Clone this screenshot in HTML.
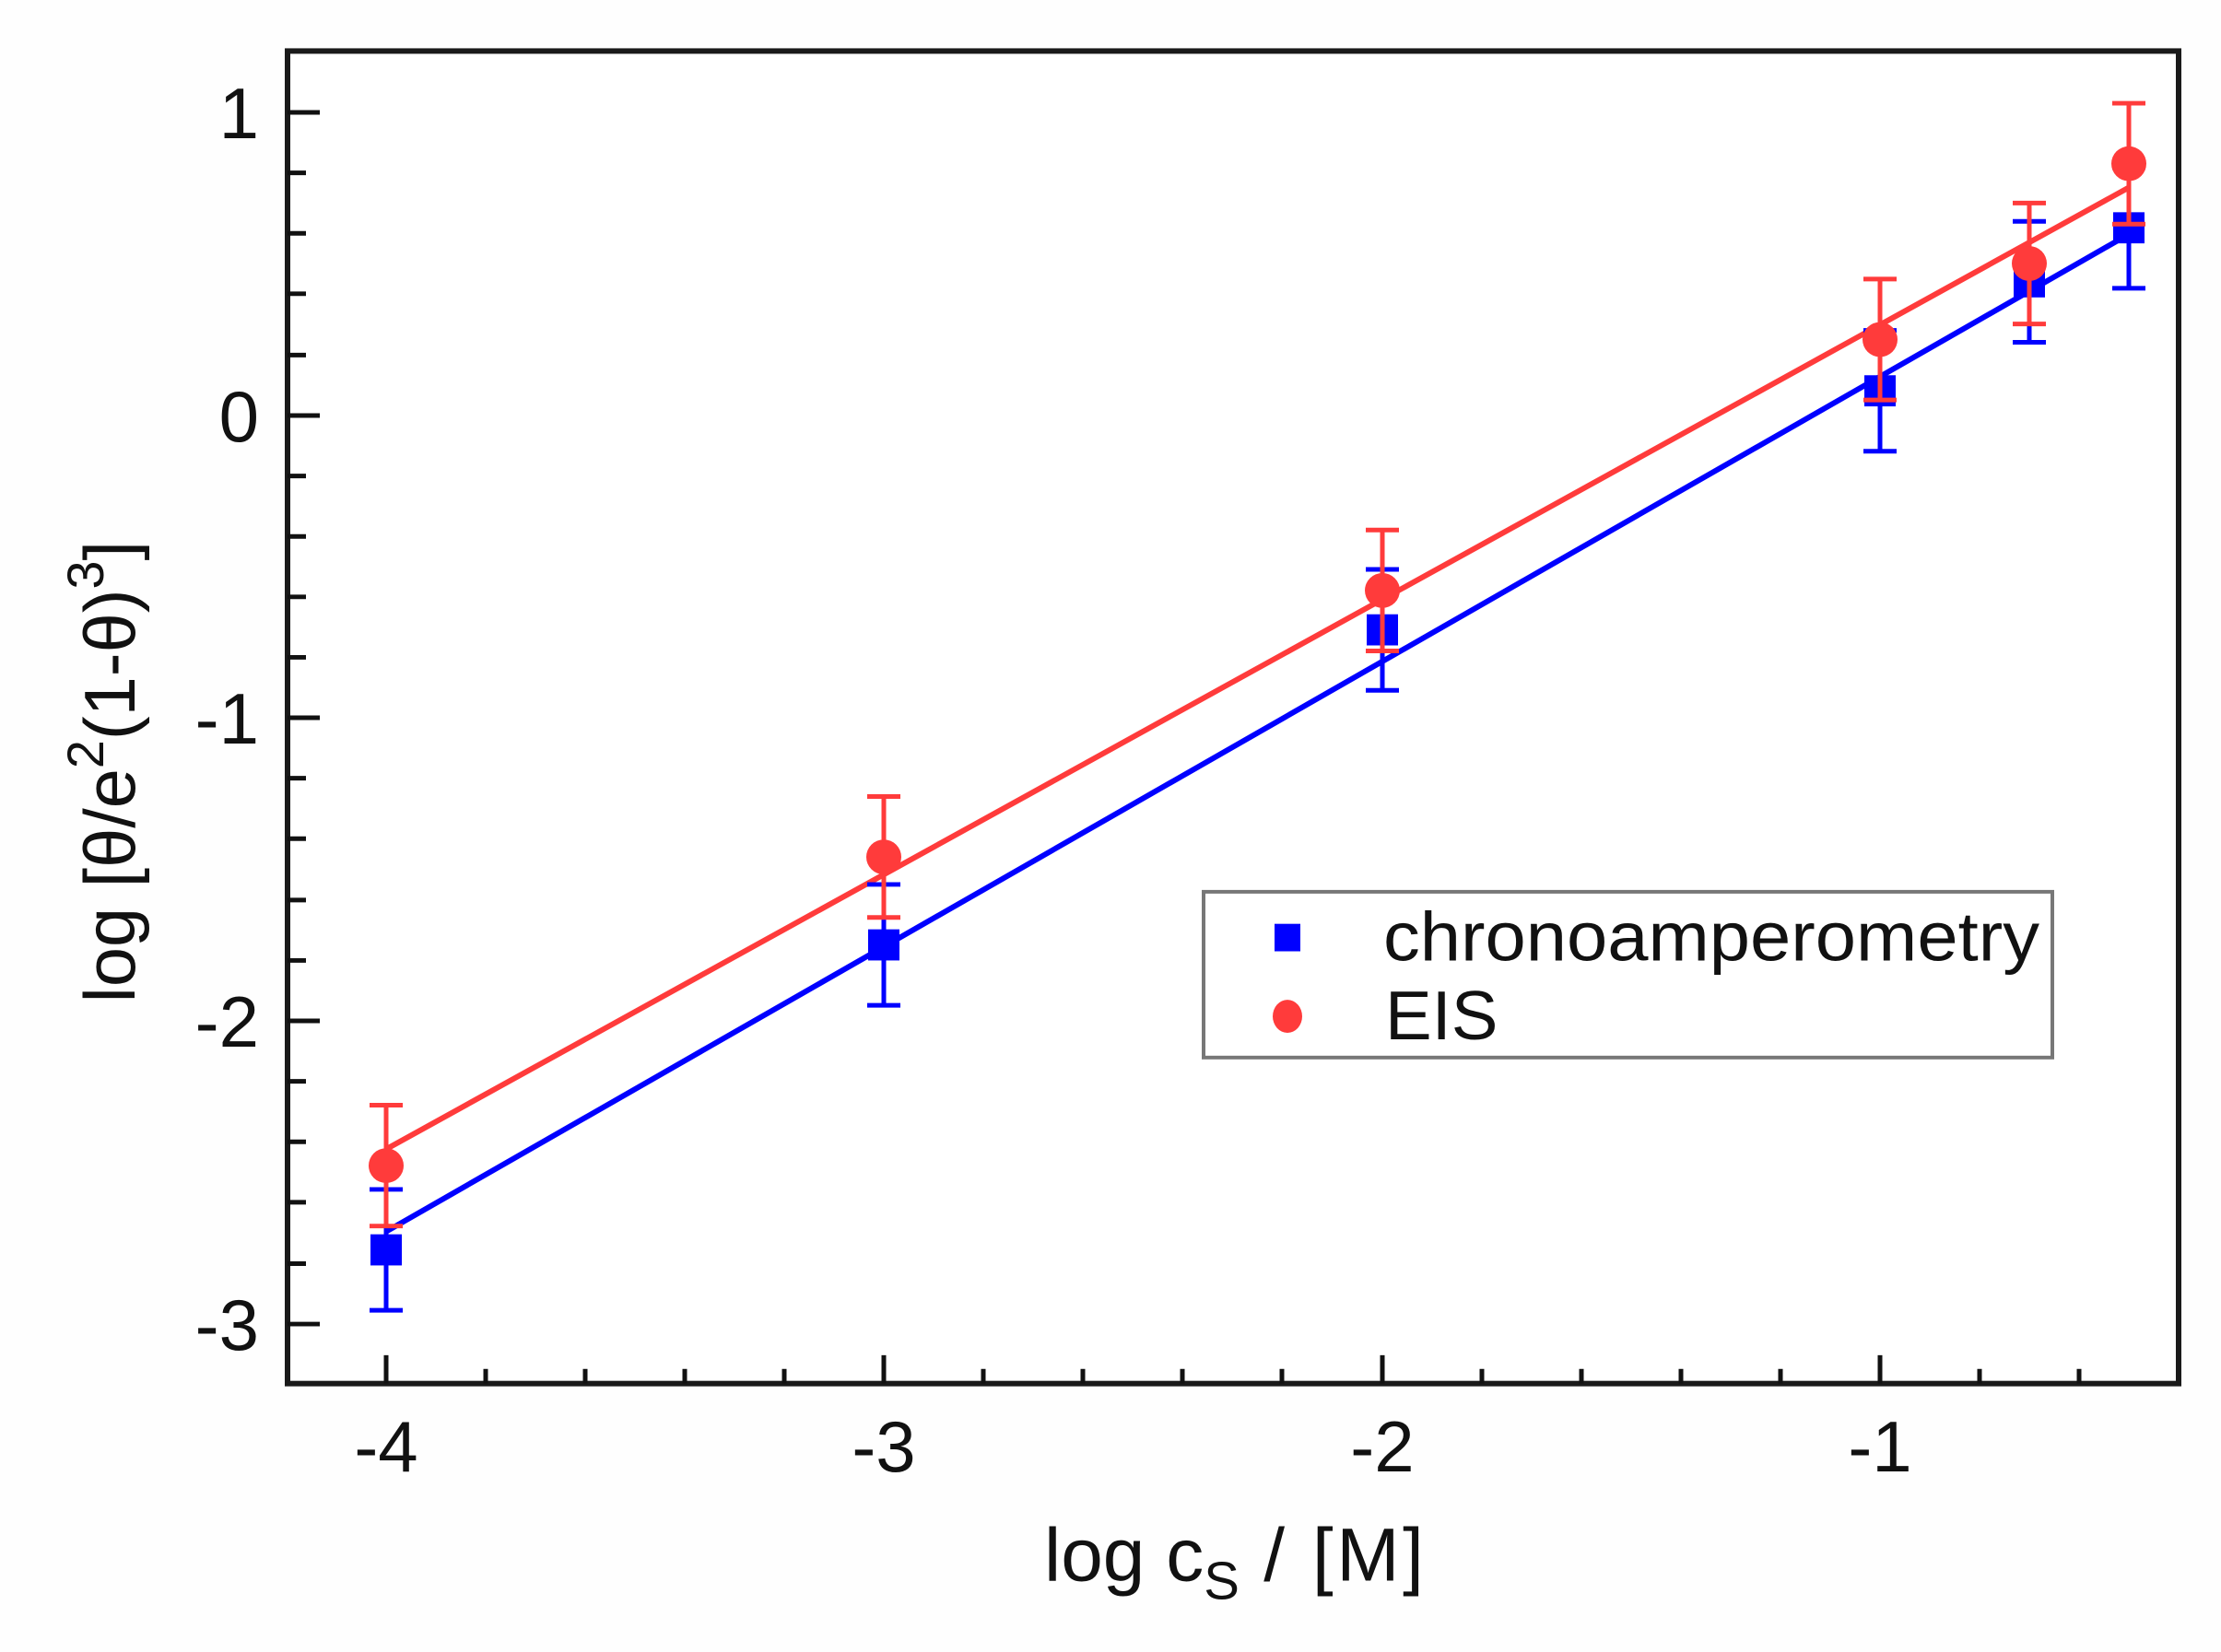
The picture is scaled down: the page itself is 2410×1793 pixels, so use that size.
<!DOCTYPE html>
<html><head><meta charset="utf-8"><style>html,body{margin:0;padding:0;background:#fff}svg{display:block}</style></head>
<body>
<svg width="2410" height="1793" viewBox="0 0 2410 1793" xmlns="http://www.w3.org/2000/svg" font-family="Liberation Sans, Arial, sans-serif">
<rect width="2410" height="1793" fill="#fefefe"/>
<g transform="matrix(1,0,0,0.994,0,0.73)">
<rect x="312" y="55" width="2052" height="1455" fill="#fff" stroke="#1a1a1a" stroke-width="6"/>
<g stroke="#111" stroke-width="5">
<line x1="419" y1="1510" x2="419" y2="1479"/>
<line x1="959" y1="1510" x2="959" y2="1479"/>
<line x1="1500" y1="1510" x2="1500" y2="1479"/>
<line x1="2040" y1="1510" x2="2040" y2="1479"/>
<line x1="527" y1="1510" x2="527" y2="1494"/><line x1="635" y1="1510" x2="635" y2="1494"/><line x1="743" y1="1510" x2="743" y2="1494"/><line x1="851" y1="1510" x2="851" y2="1494"/>
<line x1="1067" y1="1510" x2="1067" y2="1494"/><line x1="1175" y1="1510" x2="1175" y2="1494"/><line x1="1283" y1="1510" x2="1283" y2="1494"/><line x1="1391" y1="1510" x2="1391" y2="1494"/>
<line x1="1608" y1="1510" x2="1608" y2="1494"/><line x1="1716" y1="1510" x2="1716" y2="1494"/><line x1="1824" y1="1510" x2="1824" y2="1494"/><line x1="1932" y1="1510" x2="1932" y2="1494"/>
<line x1="2148" y1="1510" x2="2148" y2="1494"/><line x1="2256" y1="1510" x2="2256" y2="1494"/>
<line x1="312" y1="122" x2="347" y2="122"/>
<line x1="312" y1="453" x2="347" y2="453"/>
<line x1="312" y1="783" x2="347" y2="783"/>
<line x1="312" y1="1114" x2="347" y2="1114"/>
<line x1="312" y1="1445" x2="347" y2="1445"/>
<line x1="312" y1="188" x2="332" y2="188"/><line x1="312" y1="254" x2="332" y2="254"/><line x1="312" y1="320" x2="332" y2="320"/><line x1="312" y1="387" x2="332" y2="387"/>
<line x1="312" y1="519" x2="332" y2="519"/><line x1="312" y1="585" x2="332" y2="585"/><line x1="312" y1="651" x2="332" y2="651"/><line x1="312" y1="717" x2="332" y2="717"/>
<line x1="312" y1="849" x2="332" y2="849"/><line x1="312" y1="915" x2="332" y2="915"/><line x1="312" y1="982" x2="332" y2="982"/><line x1="312" y1="1048" x2="332" y2="1048"/>
<line x1="312" y1="1180" x2="332" y2="1180"/><line x1="312" y1="1246" x2="332" y2="1246"/><line x1="312" y1="1312" x2="332" y2="1312"/><line x1="312" y1="1379" x2="332" y2="1379"/>
</g>
<g font-size="78" fill="#111">
<g text-anchor="middle">
<text x="419" y="1606">-4</text>
<text x="959" y="1606">-3</text>
<text x="1500" y="1606">-2</text>
<text x="2040" y="1606">-1</text>
</g>
<g text-anchor="end">
<text x="281" y="150">1</text>
<text x="281" y="481">0</text>
<text x="281" y="811">-1</text>
<text x="281" y="1142">-2</text>
<text x="281" y="1473">-3</text>
</g>
</g>
<text x="1133" y="1725" font-size="82" fill="#111">log c<tspan font-size="58" dy="20">S</tspan><tspan dy="-20" textLength="200"> / [M]</tspan></text>
<text transform="translate(146,842) rotate(-90)" text-anchor="middle" font-size="78" fill="#111">log [θ/e<tspan font-size="56" dy="-34">2</tspan><tspan dy="34">(1-θ)</tspan><tspan font-size="56" dy="-34">3</tspan><tspan dy="34">]</tspan></text>

<line x1="419" y1="1344" x2="2310" y2="255" stroke="#0000ff" stroke-width="6"/>
<line x1="419" y1="1254" x2="2310" y2="204" stroke="#ff3b3b" stroke-width="6"/>

<g stroke="#0000ff" stroke-width="5">
<line x1="419" y1="1298" x2="419" y2="1430"/><line x1="401" y1="1298" x2="437" y2="1298"/><line x1="401" y1="1430" x2="437" y2="1430"/>
<line x1="959" y1="965" x2="959" y2="1097"/><line x1="941" y1="965" x2="977" y2="965"/><line x1="941" y1="1097" x2="977" y2="1097"/>
<line x1="1500" y1="621" x2="1500" y2="753"/><line x1="1482" y1="621" x2="1518" y2="621"/><line x1="1482" y1="753" x2="1518" y2="753"/>
<line x1="2040" y1="360" x2="2040" y2="492"/><line x1="2022" y1="360" x2="2058" y2="360"/><line x1="2022" y1="492" x2="2058" y2="492"/>
<line x1="2202" y1="241" x2="2202" y2="373"/><line x1="2184" y1="241" x2="2220" y2="241"/><line x1="2184" y1="373" x2="2220" y2="373"/>
<line x1="2310" y1="182" x2="2310" y2="314"/><line x1="2292" y1="182" x2="2328" y2="182"/><line x1="2292" y1="314" x2="2328" y2="314"/>
</g>
<g fill="#0000ff">
<rect x="402" y="1347" width="34" height="34"/>
<rect x="942" y="1014" width="34" height="34"/>
<rect x="1483" y="670" width="34" height="34"/>
<rect x="2023" y="409" width="34" height="34"/>
<rect x="2185" y="290" width="34" height="34"/>
<rect x="2293" y="231" width="34" height="34"/>
</g>
<g stroke="#ff3b3b" stroke-width="5">
<line x1="419" y1="1206" x2="419" y2="1338"/><line x1="401" y1="1206" x2="437" y2="1206"/><line x1="401" y1="1338" x2="437" y2="1338"/>
<line x1="959" y1="869" x2="959" y2="1001"/><line x1="941" y1="869" x2="977" y2="869"/><line x1="941" y1="1001" x2="977" y2="1001"/>
<line x1="1500" y1="578" x2="1500" y2="710"/><line x1="1482" y1="578" x2="1518" y2="578"/><line x1="1482" y1="710" x2="1518" y2="710"/>
<line x1="2040" y1="304" x2="2040" y2="436"/><line x1="2022" y1="304" x2="2058" y2="304"/><line x1="2022" y1="436" x2="2058" y2="436"/>
<line x1="2202" y1="221" x2="2202" y2="353"/><line x1="2184" y1="221" x2="2220" y2="221"/><line x1="2184" y1="353" x2="2220" y2="353"/>
<line x1="2310" y1="112" x2="2310" y2="244"/><line x1="2292" y1="112" x2="2328" y2="112"/><line x1="2292" y1="244" x2="2328" y2="244"/>
</g>
<g fill="#ff3b3b">
<circle cx="419" cy="1272" r="19"/>
<circle cx="959" cy="935" r="19"/>
<circle cx="1500" cy="644" r="19"/>
<circle cx="2040" cy="370" r="19"/>
<circle cx="2202" cy="287" r="19"/>
<circle cx="2310" cy="178" r="19"/>
</g>

<rect x="1315" y="973" width="921" height="181" fill="#fff" stroke="#777" stroke-width="4" transform="translate(-9,0)"/>
<g transform="translate(-9,0)">
<rect x="1392" y="1008" width="28" height="30" fill="#0000ff"/>
<ellipse cx="1406" cy="1109" rx="16" ry="18" fill="#ff3b3b"/>
<text x="1510" y="1048" font-size="76" fill="#111" textLength="712" lengthAdjust="spacingAndGlyphs">chronoamperometry</text>
<text x="1512" y="1134" font-size="76" fill="#111">EIS</text>
</g>
</g>
</svg>
</body></html>
